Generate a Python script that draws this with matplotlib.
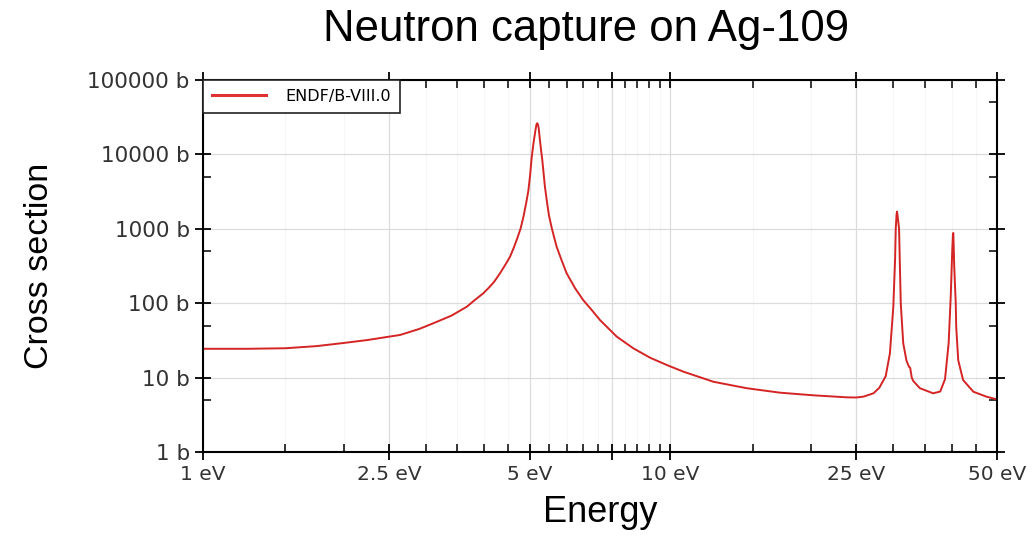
import numpy as np
import matplotlib.pyplot as plt
from matplotlib.ticker import FixedLocator, FixedFormatter, NullFormatter

# values (energy in eV, cross section in barn)
energy = [
    1.0, 1.25, 1.5, 1.75, 2.0, 2.25, 2.5, 2.64, 2.9, 3.11, 3.4, 3.67, 3.8,
    3.98, 4.11, 4.2, 4.32, 4.45, 4.54, 4.62, 4.69, 4.78, 4.85, 4.92, 4.97,
    5.01, 5.05, 5.09, 5.12, 5.15, 5.17, 5.19, 5.21, 5.23, 5.25, 5.28, 5.32,
    5.39, 5.45, 5.5, 5.58, 5.71, 5.85, 6.0, 6.25, 6.51, 6.8, 7.07, 7.68,
    8.33, 9.05, 9.82, 10.67, 11.58, 12.36, 13.5, 14.57, 17.17, 20.23, 23.85,
    25.0, 25.9, 27.2, 28.0, 28.6, 28.9, 29.5, 30.0, 30.26, 30.36, 30.48,
    30.55, 30.62, 30.86, 31.12, 31.5, 32.0, 32.4, 32.6, 32.85, 33.1, 34.2,
    36.5, 37.8, 38.7, 39.4, 39.8, 40.1, 40.25, 40.32, 40.5, 40.8, 40.9,
    41.3, 42.3, 44.5, 47.5, 50.0,
]
xs_capture = [
    24.4, 24.4, 24.8, 26.5, 29.2, 32.0, 35.5, 37.4, 45.0, 53.7, 68.0, 89.8,
    108, 136, 167, 195, 252, 340, 422, 550, 707, 1000, 1455, 2300, 3310,
    5200, 9000, 13500, 17300, 22000, 25200, 26200, 25200, 22000, 17300,
    12500, 8500, 3700, 2200, 1500, 1000, 575, 380, 252, 160, 110, 80, 59.4,
    35.5, 24.8, 18.5, 14.8, 12.0, 10.1, 8.8, 7.9, 7.2, 6.27, 5.78, 5.43,
    5.4, 5.55, 6.15, 7.3, 9.3, 10.5, 21.2, 90, 381, 1000, 1550,
    1700, 1550, 1000, 100, 29.0, 17.0, 14.0, 13.5, 10.0, 9.0, 7.2,
    6.15, 6.5, 9.5, 29.0, 120, 500, 860, 880, 310, 100, 48,
    17.2, 9.3, 6.46, 5.53, 5.1,
]

x_major = [1, 2.5, 5, 7.5, 10, 25, 50]
x_major_labels = ["1 eV", "2.5 eV", "5 eV", "", "10 eV", "25 eV", "50 eV"]
x_minor = [1.5, 2, 3, 3.5, 4, 4.5, 5.5, 6, 6.5, 7, 8, 8.5, 9, 9.5,
           15, 20, 30, 35, 40, 45]
y_major = [1, 10, 100, 1000, 10000, 100000]
y_major_labels = ["1 b", "10 b", "100 b", "1000 b", "10000 b", "100000 b"]
y_minor = [5, 50, 500, 5000, 50000]

fig = plt.figure(figsize=(10.32, 5.36), dpi=100)
ax = fig.add_axes([203 / 1032, 1 - 452 / 536, 794 / 1032, 372 / 536])

ax.plot(energy, xs_capture, color="#d42424", lw=1.4, label="ENDF/B-VIII.0")

ax.set_xscale("log")
ax.set_yscale("log")
ax.set_xlim(1, 50)
ax.set_ylim(1, 100000)

ax.xaxis.set_major_locator(FixedLocator(x_major))
ax.xaxis.set_major_formatter(FixedFormatter(x_major_labels))
ax.xaxis.set_minor_locator(FixedLocator(x_minor))
ax.xaxis.set_minor_formatter(NullFormatter())
ax.yaxis.set_major_locator(FixedLocator(y_major))
ax.yaxis.set_major_formatter(FixedFormatter(y_major_labels))
ax.yaxis.set_minor_locator(FixedLocator(y_minor))
ax.yaxis.set_minor_formatter(NullFormatter())

ax.grid(True, which="major", color="#dcdcdc", lw=0.9)
ax.grid(True, which="minor", axis="x", color="#f6f6f6", lw=0.8)
ax.set_axisbelow(True)

ax.tick_params(which="major", direction="inout", length=11, width=1.3,
               top=True, right=True, labelcolor="#333333", pad=4)
ax.tick_params(axis="x", which="major", labelsize=14.5)
ax.tick_params(axis="y", which="major", labelsize=15.5)
ax.tick_params(which="minor", direction="in", length=6, width=1.1,
               top=True, right=True)
for s in ax.spines.values():
    s.set_linewidth(1.5)

ax.set_xlabel("Energy", family="Liberation Sans", fontsize=26, labelpad=8)
ax.set_ylabel("Cross section", family="Liberation Sans", fontsize=24.5,
              labelpad=23)
fig.text(586 / 1032, 1 - 30 / 536, "Neutron capture on Ag-109",
         family="Liberation Sans", fontsize=31.5, ha="center", va="center")

leg = ax.legend(loc="upper left", borderaxespad=0, fancybox=False,
                framealpha=1, edgecolor="#222222", fontsize=11.5,
                handlelength=3.4, handletextpad=1.2, borderpad=0.55)
leg.get_frame().set_linewidth(1.2)
for line in leg.get_lines():
    line.set_linewidth(2.2)
    line.set_color("#e03030")

fig.savefig("out.png", dpi=100)
